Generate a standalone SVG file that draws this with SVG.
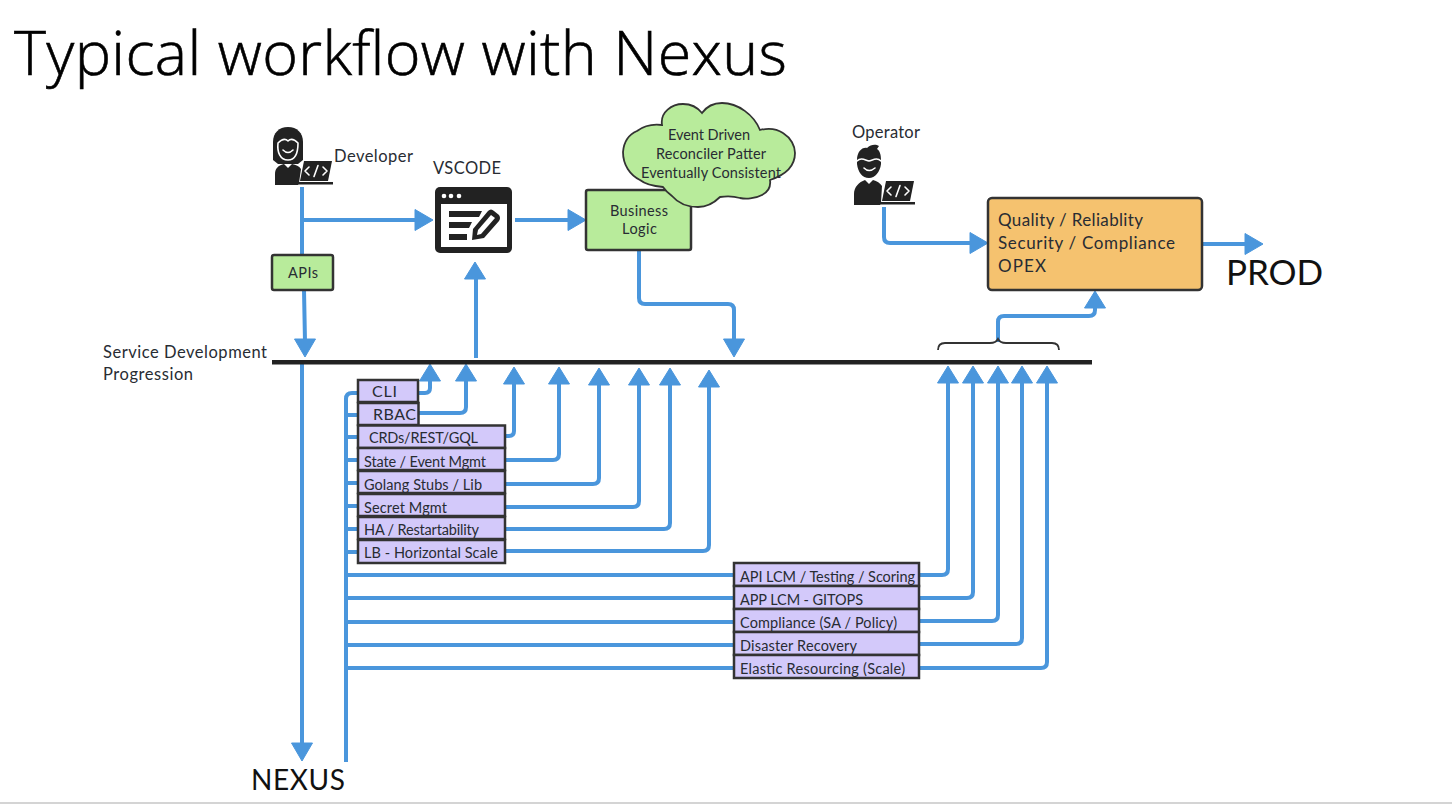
<svg xmlns="http://www.w3.org/2000/svg" width="1452" height="804" viewBox="0 0 1452 804">
<style>
text{font-family:"Lato","Open Sans","Liberation Sans",sans-serif;fill:#282c33}
.c{fill:none;stroke:#4a96dc;stroke-width:4;stroke-linejoin:round}
.a{fill:#4a96dc;stroke:#4a96dc;stroke-width:1;stroke-linejoin:round}
.p rect{fill:#d3c9fa;stroke:#333;stroke-width:2.500}
.p text{font-size:14.500px}
.g{fill:#b8eb9b;stroke:#333;stroke-width:2.500}
.i{fill:#222}
.w{fill:#fff}
.wl{fill:none;stroke:#fff;stroke-width:1.600;stroke-linecap:round;stroke-linejoin:round}
</style>
<defs>
<polygon id="u" class="a" points="0,1 10.500,18 -10.500,18"/>
<polygon id="d" class="a" points="0,-1 10.500,-19 -10.500,-19"/>
<polygon id="r" class="a" points="-1,0 -19,-10.500 -19,10.500"/>
<g id="laptop"><path class="i" d="M4,0H32L28,20H0Z"/><path class="i" d="M-2,21H33V23.500H-2Z"/><path class="wl" d="M9,6L5,10L9,14M23,6L27,10L23,14M18,4.500L14,15.500" stroke-width="2"/></g>
</defs>
<rect width="1452" height="804" fill="#fff"/>
<rect y="802" width="1452" height="2" fill="#d4d4d4"/>
<text id="title" x="14" y="75" style="font-family:'Open Sans','Liberation Sans',sans-serif;font-weight:300;font-size:61px;fill:#000;stroke:#000;stroke-width:.6" textLength="773">Typical workflow with Nexus</text>

<g id="connectors">
<path class="c" d="M302,187V255M304,290L305,342"/><use href="#d" x="305" y="358"/>
<path class="c" d="M303,220H416"/><use href="#r" x="434" y="220"/>
<path class="c" d="M302,362V746"/><use href="#d" x="302" y="762"/>
<path class="c" d="M515,220H570"/><use href="#r" x="587" y="220"/>
<path class="c" d="M476,358V278"/><use href="#u" x="475" y="261"/>
<path class="c" d="M639,250V298Q639,304 645,304H728Q734,304 734,310V342"/><use href="#d" x="734" y="358"/>
<path class="c" d="M884,207V237Q884,243 890,243H972"/><use href="#r" x="989" y="243"/>
<path class="c" d="M1202,244H1247"/><use href="#r" x="1264" y="244"/>
<path class="c" d="M998,342V322Q998,316 1004,316H1089Q1095,316 1095,310V306"/><use href="#u" x="1095" y="290"/>
<path class="c" d="M346,762V399Q346,393 352,393H358M346,415H358M346,437H358M346,460H358M346,483H358M346,506H358M346,529H358M346,552H358M346,575H735M346,598H735M346,622H735M346,645H735M346,668H735"/>
<path class="c" d="M418,393H425Q430,393 430,388V380"/><use href="#u" x="430" y="363"/>
<path class="c" d="M419,413H460Q466,413 466,407V380"/><use href="#u" x="466" y="363"/>
<path class="c" d="M505,436H509Q514,436 514,431V382"/><use href="#u" x="514" y="366"/>
<path class="c" d="M505,460H553Q559,460 559,454V382"/><use href="#u" x="559" y="366"/>
<path class="c" d="M505,484H593Q599,484 599,478V383"/><use href="#u" x="599" y="367"/>
<path class="c" d="M505,507H633Q639,507 639,501V383"/><use href="#u" x="639" y="367"/>
<path class="c" d="M505,529H664Q670,529 670,523V383"/><use href="#u" x="670" y="367"/>
<path class="c" d="M505,551H703Q709,551 709,545V385"/><use href="#u" x="709" y="369"/>
<path class="c" d="M919,575H942Q948,575 948,569V382"/><use href="#u" x="948" y="365"/>
<path class="c" d="M919,598H967Q973,598 973,592V382"/><use href="#u" x="973" y="365"/>
<path class="c" d="M919,621H992Q998,621 998,615V382"/><use href="#u" x="998" y="365"/>
<path class="c" d="M919,644H1016Q1022,644 1022,638V382"/><use href="#u" x="1022" y="365"/>
<path class="c" d="M919,668H1041Q1047,668 1047,662V382"/><use href="#u" x="1047" y="365"/>
</g>

<rect id="bar" x="272" y="360" width="820" height="4.500" fill="#222"/>
<path id="brace" d="M938,350C938,345 941,343 945,343H990C995,343 997,341 998,339C999,341 1001,343 1006,343H1052C1056,343 1059,345 1059,350" fill="none" stroke="#333" stroke-width="1.800"/>
<text id="progression" font-size="16.500"><tspan x="103" y="358" textLength="164">Service Development</tspan><tspan x="103" y="380" textLength="90">Progression</tspan></text>

<g id="developer">
<path class="i" d="M288,127C279,127 273,133 273,142V160L278,164H298L303,160V142C303,133 297,127 288,127Z"/>
<path class="wl" d="M278,143C281,140 285,138 288,141C291,138 295,140 298,143C298,152 296,160 288,160C280,160 277,152 278,143Z"/>
<path class="wl" d="M283,150Q288,155 293,150"/>
<path class="i" d="M275,185V174C275,168 279,165 284,164L288,168L292,164C296,165 299,166 301,169L299,183L298,185Z"/>
<use href="#laptop" transform="translate(300,161)"/>
<text x="334" y="162" font-size="16.500" textLength="79">Developer</text>
</g>

<g id="vscode">
<text x="433" y="174" font-size="16.500" textLength="68">VSCODE</text>
<rect x="435" y="187" width="77" height="66" rx="5" class="i"/>
<rect x="441" y="204" width="66" height="43" class="w"/>
<circle cx="444" cy="196" r="2.300" class="w"/><circle cx="451" cy="196" r="2.300" class="w"/><circle cx="459" cy="196" r="2.300" class="w"/>
<path class="i" d="M449,211H482L479,217H449ZM449,222H472L469,228H449ZM449,234H467V240H449Z"/>
<path d="M472,240L473,229L488,211Q491,208 494,211L499,215Q501,218 499,221L484,238Z" class="i"/>
<path d="M477,235L478,230L491,215L495,218L481,234Z" class="w"/>
</g>

<g id="apis"><rect class="g" x="272" y="255" width="61" height="35" rx="2"/><text x="288" y="278" font-size="14.500" textLength="30">APIs</text></g>

<g id="business-logic"><rect class="g" x="586" y="190" width="105" height="60" rx="2"/><text font-size="14.500"><tspan x="610" y="216" textLength="58">Business</tspan><tspan x="622" y="234" textLength="35">Logic</tspan></text></g>

<g id="cloud"><path class="g" style="stroke-width:1.800" d="M662,125C660,112 672,104 683,104C691,104 698,108 702,113C707,106 714,103 722,103C738,103 754,115 760,130C768,128 777,129 783,133C791,138 795,146 795,153C795,165 788,174 770,180C771,187 768,192 762,195C755,199 745,199 740,198C733,196 727,196 720,197C713,204 707,207 698,207C688,207 678,203 672,196C668,193 665,190 663,187C652,186 645,184 640,180C630,175 623,165 623,152C624,140 630,134 637,131C645,125 654,124 662,125Z"/>
<text font-size="14.500"><tspan x="668" y="140" textLength="82">Event Driven</tspan><tspan x="656" y="159" textLength="110">Reconciler Patter</tspan><tspan x="641" y="178" textLength="140">Eventually Consistent</tspan></text></g>

<g id="operator">
<text x="852" y="138" font-size="16.500" textLength="68">Operator</text>
<path class="i" d="M857,160C857,152 862,147 867,148C871,144 876,144 879,146L877,149C880,151 881,155 881,160V164C880,172 875,178 869,178C862,178 858,172 857,164Z"/>
<path class="wl" d="M857,161C861,157 865,160 869,161C873,160 877,157 881,161"/>
<path class="wl" d="M864,168Q869,173 875,168"/>
<path class="i" d="M854,205V194C854,187 859,182 865,180L869,184L873,180C877,181 880,183 882,186L881,203L880,205Z"/>
<use href="#laptop" transform="translate(882,181)"/>
</g>

<g id="quality"><rect x="988" y="198" width="214" height="92" rx="4" fill="#f5c26f" stroke="#333" stroke-width="2.500"/>
<text font-size="17"><tspan x="998" y="226" textLength="145">Quality / Reliablity</tspan><tspan x="998" y="249" textLength="177">Security / Compliance</tspan><tspan x="998" y="272" textLength="48">OPEX</tspan></text></g>

<text id="prod" x="1226" y="285" font-size="35" style="fill:#111" textLength="97">PROD</text>
<text id="nexus" x="251" y="790" font-size="28" style="fill:#111" textLength="94">NEXUS</text>

<g class="p" id="cli"><rect x="358" y="380" width="60" height="22"/><text x="372" y="397" style="font-size:16px" textLength="25">CLI</text></g>
<g class="p" id="rbac"><rect x="358" y="403" width="60.500" height="22"/><text x="373" y="420" style="font-size:16px" textLength="43">RBAC</text></g>
<g class="p" id="crds"><rect x="358" y="425.500" width="147" height="22.500"/><text x="369" y="443" textLength="109">CRDs/REST/GQL</text></g>
<g class="p" id="state"><rect x="358" y="448" width="147" height="22"/><text x="364" y="467" textLength="122">State / Event Mgmt</text></g>
<g class="p" id="golang"><rect x="358" y="471" width="147" height="22"/><text x="364" y="490" textLength="118">Golang Stubs / Lib</text></g>
<g class="p" id="secret"><rect x="358" y="494" width="147" height="22"/><text x="364" y="513" textLength="83">Secret Mgmt</text></g>
<g class="p" id="ha"><rect x="358" y="517" width="147" height="22"/><text x="364" y="535" textLength="115">HA / Restartability</text></g>
<g class="p" id="lb"><rect x="358" y="540" width="147" height="23"/><text x="364" y="558" textLength="134">LB - Horizontal Scale</text></g>

<g class="p" id="api-lcm"><rect x="734" y="563" width="185" height="23"/><text x="740" y="582" textLength="175">API LCM / Testing / Scoring</text></g>
<g class="p" id="app-lcm"><rect x="734" y="586" width="185" height="23"/><text x="740" y="605" textLength="123">APP LCM - GITOPS</text></g>
<g class="p" id="compliance"><rect x="734" y="609" width="185" height="23"/><text x="740" y="628" textLength="157">Compliance (SA / Policy)</text></g>
<g class="p" id="dr"><rect x="734" y="632" width="185" height="23"/><text x="740" y="651" textLength="117">Disaster Recovery</text></g>
<g class="p" id="elastic"><rect x="734" y="655" width="185" height="23"/><text x="740" y="674" textLength="165">Elastic Resourcing (Scale)</text></g>
</svg>
